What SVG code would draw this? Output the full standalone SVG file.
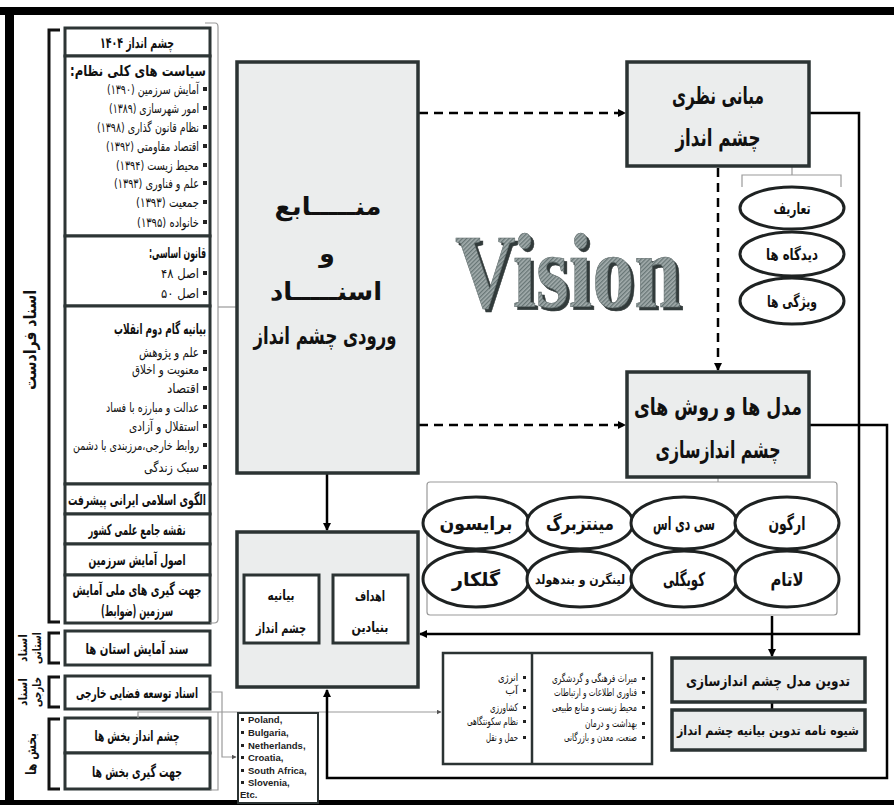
<svg xmlns="http://www.w3.org/2000/svg" width="894" height="805" viewBox="0 0 894 805">
<defs>
<style>
.fa{font-family:"DejaVu Sans",sans-serif;direction:rtl;fill:#111}
.c{text-anchor:middle}
.r{text-anchor:start}
.b{font-weight:bold}
.box{fill:#fff;stroke:#2d3535;stroke-width:3}
.gbox{fill:#ebeded;stroke:#2b3333;stroke-width:3.5}
.ell{fill:#fff;stroke:#1e2222;stroke-width:3}
.br{fill:none;stroke:#111;stroke-width:3}
.thin{fill:none;stroke:#9a9a9a;stroke-width:1.2}
.solid{fill:none;stroke:#000;stroke-width:2.5}
.dash{fill:none;stroke:#000;stroke-width:2.5;stroke-dasharray:9 6}
.bul{fill:#222}
</style>
<marker id="ah" markerWidth="8" markerHeight="8" refX="7" refY="4" orient="auto" markerUnits="userSpaceOnUse"><path d="M0,0 L8,4 L0,8 Z" fill="#000"/></marker>
<marker id="as" markerWidth="5" markerHeight="5" refX="4.5" refY="2.5" orient="auto" markerUnits="userSpaceOnUse"><path d="M0,0 L5,2.5 L0,5 Z" fill="#555"/></marker>
<pattern id="hatch" width="3" height="3" patternUnits="userSpaceOnUse" patternTransform="rotate(45)"><rect width="3" height="3" fill="#a3adad"/><rect width="1.3" height="3" fill="#677575"/></pattern>
<filter id="shadow" x="-5%" y="-5%" width="115%" height="120%"><feOffset in="SourceAlpha" dx="3" dy="3" result="o"/><feFlood flood-color="#323a3a"/><feComposite in2="o" operator="in" result="s"/><feMerge><feMergeNode in="s"/><feMergeNode in="SourceGraphic"/></feMerge></filter>
<rect id="bl" width="4" height="4" class="bul"/>
</defs>
<rect x="0" y="0" width="894" height="805" fill="#fff"/>
<!-- frame -->
<rect x="0" y="7" width="894" height="8" fill="#000"/>
<rect x="5" y="7" width="9" height="798" fill="#000"/>
<rect x="0" y="800" width="894" height="5" fill="#000"/>

<!-- left brackets and labels -->
<g id="brackets">
<path class="br" d="M60,30 H49 V622 H60"/>
<path class="br" d="M60,633 H49 V663 H60"/>
<path class="br" d="M60,677 H49 V707 H60"/>
<path class="br" d="M60,719 H49 V789 H60"/>
<text class="fa c b" font-size="17" textLength="100" lengthAdjust="spacingAndGlyphs" transform="translate(36,340) rotate(-90)">اسناد فرادست</text>
<text class="fa c b" font-size="12" textLength="28" lengthAdjust="spacingAndGlyphs" transform="translate(27,648) rotate(-90)">اسناد</text>
<text class="fa c b" font-size="12" textLength="32" lengthAdjust="spacingAndGlyphs" transform="translate(41,648) rotate(-90)">استانی</text>
<text class="fa c b" font-size="12" textLength="28" lengthAdjust="spacingAndGlyphs" transform="translate(27,692) rotate(-90)">اسناد</text>
<text class="fa c b" font-size="12" textLength="30" lengthAdjust="spacingAndGlyphs" transform="translate(41,692) rotate(-90)">خارجی</text>
<text class="fa c b" font-size="14" textLength="42" lengthAdjust="spacingAndGlyphs" transform="translate(36,754) rotate(-90)">بخش ها</text>
</g>

<!-- left column boxes -->
<g id="n1404"><rect class="box" x="65" y="28" width="145" height="28"/><text class="fa c b" font-size="15" textLength="74" lengthAdjust="spacingAndGlyphs" x="137" y="48">چشم انداز ۱۴۰۴</text></g>
<g id="policies"><rect class="box" x="65" y="56" width="145" height="180"/>
<text class="fa r b" font-size="15" textLength="136" lengthAdjust="spacingAndGlyphs" x="206" y="76">سیاست های کلی نظام:</text>
<g font-size="13" class="fa r">
<text x="199" y="94" textLength="92" lengthAdjust="spacingAndGlyphs">آمایش سرزمین (۱۳۹۰)</text>
<text x="199" y="113" textLength="90" lengthAdjust="spacingAndGlyphs">امور شهرسازی (۱۳۸۹)</text>
<text x="199" y="132" textLength="102" lengthAdjust="spacingAndGlyphs">نظام قانون گذاری (۱۳۹۸)</text>
<text x="199" y="151" textLength="93" lengthAdjust="spacingAndGlyphs">اقتصاد مقاومتی (۱۳۹۲)</text>
<text x="199" y="170" textLength="83" lengthAdjust="spacingAndGlyphs">محیط زیست (۱۳۹۴)</text>
<text x="199" y="188" textLength="85" lengthAdjust="spacingAndGlyphs">علم و فناوری (۱۳۹۳)</text>
<text x="199" y="207" textLength="63" lengthAdjust="spacingAndGlyphs">جمعیت (۱۳۹۳)</text>
<text x="199" y="227" textLength="62" lengthAdjust="spacingAndGlyphs">خانواده (۱۳۹۵)</text>
</g>
<use href="#bl" x="203" y="87"/><use href="#bl" x="203" y="106"/><use href="#bl" x="203" y="125"/><use href="#bl" x="203" y="144"/><use href="#bl" x="203" y="163"/><use href="#bl" x="203" y="181"/><use href="#bl" x="203" y="200"/><use href="#bl" x="203" y="220"/>
</g>
<g id="constitution"><rect class="box" x="65" y="236" width="145" height="70"/>
<text class="fa r b" font-size="15" textLength="57" lengthAdjust="spacingAndGlyphs" x="206" y="258">قانون اساسی:</text>
<text class="fa r" font-size="13" textLength="38" lengthAdjust="spacingAndGlyphs" x="199" y="278">اصل ۴۸</text>
<text class="fa r" font-size="13" textLength="38" lengthAdjust="spacingAndGlyphs" x="199" y="298">اصل ۵۰</text>
<use href="#bl" x="203" y="271"/><use href="#bl" x="203" y="291"/>
</g>
<g id="statement2"><rect class="box" x="65" y="306" width="145" height="178"/>
<text class="fa r b" font-size="15" textLength="92" lengthAdjust="spacingAndGlyphs" x="206" y="334">بیانیه گام دوم انقلاب</text>
<g font-size="13" class="fa r">
<text x="199" y="357" textLength="60" lengthAdjust="spacingAndGlyphs">علم و پژوهش</text>
<text x="199" y="374" textLength="67" lengthAdjust="spacingAndGlyphs">معنویت و اخلاق</text>
<text x="199" y="393" textLength="32" lengthAdjust="spacingAndGlyphs">اقتصاد</text>
<text x="199" y="412" textLength="93" lengthAdjust="spacingAndGlyphs">عدالت و مبارزه با فساد</text>
<text x="199" y="431" textLength="70" lengthAdjust="spacingAndGlyphs">استقلال و آزادی</text>
<text x="199" y="450" textLength="126" lengthAdjust="spacingAndGlyphs">روابط خارجی،مرزبندی با دشمن</text>
<text x="199" y="472" textLength="55" lengthAdjust="spacingAndGlyphs">سبک زندگی</text>
</g>
<use href="#bl" x="203" y="350"/><use href="#bl" x="203" y="367"/><use href="#bl" x="203" y="386"/><use href="#bl" x="203" y="405"/><use href="#bl" x="203" y="424"/><use href="#bl" x="203" y="443"/><use href="#bl" x="203" y="465"/>
</g>
<g id="pattern"><rect class="box" x="65" y="484" width="145" height="30"/><text class="fa c b" font-size="15" textLength="138" lengthAdjust="spacingAndGlyphs" x="137" y="505">الگوی اسلامی ایرانی پیشرفت</text></g>
<g id="sciencemap"><rect class="box" x="65" y="514" width="145" height="30"/><text class="fa c b" font-size="15" textLength="97" lengthAdjust="spacingAndGlyphs" x="137" y="535">نقشه جامع علمی کشور</text></g>
<g id="principles"><rect class="box" x="65" y="544" width="145" height="31"/><text class="fa c b" font-size="15" textLength="97" lengthAdjust="spacingAndGlyphs" x="137" y="565">اصول آمایش سرزمین</text></g>
<g id="directions"><rect class="box" x="65" y="575" width="145" height="48"/><text class="fa c b" font-size="15" textLength="129" lengthAdjust="spacingAndGlyphs" x="137" y="595">جهت گیری های ملی آمایش</text><text class="fa c b" font-size="15" textLength="72" lengthAdjust="spacingAndGlyphs" x="137" y="616">سرزمین (ضوابط)</text></g>
<g id="provinces"><rect class="box" x="65" y="631" width="145" height="34"/><text class="fa c b" font-size="15" textLength="103" lengthAdjust="spacingAndGlyphs" x="137" y="654">سند آمایش استان ها</text></g>
<g id="foreign"><rect class="box" x="65" y="676" width="145" height="33"/><text class="fa c b" font-size="15" textLength="122" lengthAdjust="spacingAndGlyphs" x="137" y="698">اسناد توسعه فضایی خارجی</text></g>
<g id="sectorvision"><rect class="box" x="65" y="718" width="145" height="35"/><text class="fa c b" font-size="15" textLength="85" lengthAdjust="spacingAndGlyphs" x="137" y="741">چشم انداز بخش ها</text></g>
<g id="sectordir"><rect class="box" x="65" y="753" width="145" height="36"/><text class="fa c b" font-size="15" textLength="90" lengthAdjust="spacingAndGlyphs" x="137" y="777">جهت گیری بخش ها</text></g>

<!-- connectors -->
<g id="connectors">
<path class="thin" d="M205,23 H215 Q218,23 218,27 V619 Q218,623 214,623 H210"/>
<path class="thin" d="M218,307 H237"/>
<path class="thin" d="M210,692 H222 V757 H236" marker-end="url(#as)"/>
<path class="thin" d="M138,718 V712 H441" marker-end="url(#as)"/>
<path class="thin" d="M210,790 H218 V712"/>
<path class="thin" d="M792,167 V175 M742,187 V175 H841 V187"/>
<path class="thin" d="M718,478 V482"/>
<path class="dash" d="M419,113 H625" marker-end="url(#ah)"/>
<path class="dash" d="M419,425 H625" marker-end="url(#ah)"/>
<path class="dash" d="M718,168 V370" marker-end="url(#ah)"/>
<path class="solid" d="M810,113 H859 V634 H420" marker-end="url(#ah)"/>
<path class="solid" d="M810,425 H887 V778 H327 V690" marker-end="url(#ah)"/>
<path class="solid" d="M327,474 V530" marker-end="url(#ah)"/>
<path class="solid" d="M333,609 H321" marker-end="url(#ah)"/>
<path class="solid" d="M772,616 V656" marker-end="url(#ah)"/>
<path class="solid" d="M772,702 V711" stroke-width="3"/>
</g>

<!-- main input box -->
<g id="inputs"><rect class="gbox" x="237" y="62" width="181" height="411"/>
<text class="fa c b" font-size="25" textLength="107" lengthAdjust="spacingAndGlyphs" x="328" y="215">منـــــابع</text>
<text class="fa c b" font-size="25" x="327" y="262">و</text>
<text class="fa c b" font-size="25" textLength="112" lengthAdjust="spacingAndGlyphs" x="326" y="300">اسنـــــاد</text>
<text class="fa c b" font-size="24" textLength="143" lengthAdjust="spacingAndGlyphs" x="325" y="344">ورودی چشم انداز</text>
</g>

<!-- Vision -->
<g id="vision">
<text x="455" y="307" font-family="Liberation Serif" font-weight="bold" font-size="106" textLength="226" lengthAdjust="spacingAndGlyphs" fill="url(#hatch)" stroke="#5a6666" stroke-width="0.6" filter="url(#shadow)">Vision</text>
</g>

<!-- theoretical foundations -->
<g id="theory"><rect class="gbox" x="627" y="62" width="182" height="104"/>
<text class="fa c b" font-size="24" textLength="92" lengthAdjust="spacingAndGlyphs" x="718" y="104">مبانی نظری</text>
<text class="fa c b" font-size="24" textLength="85" lengthAdjust="spacingAndGlyphs" x="718" y="146">چشم انداز</text>
</g>
<g id="defs1"><ellipse class="ell" cx="792" cy="208" rx="52" ry="21"/><text class="fa c b" font-size="16" textLength="37" lengthAdjust="spacingAndGlyphs" x="792" y="214">تعاریف</text></g>
<g id="views"><ellipse class="ell" cx="792" cy="254" rx="52" ry="22"/><text class="fa c b" font-size="16" textLength="52" lengthAdjust="spacingAndGlyphs" x="792" y="260">دیدگاه ها</text></g>
<g id="features"><ellipse class="ell" cx="792" cy="301" rx="52" ry="23"/><text class="fa c b" font-size="16" textLength="50" lengthAdjust="spacingAndGlyphs" x="792" y="307">ویژگی ها</text></g>

<!-- models -->
<g id="models"><rect class="gbox" x="627" y="372" width="182" height="105"/>
<text class="fa c b" font-size="24" textLength="168" lengthAdjust="spacingAndGlyphs" x="718" y="415">مدل ها و روش های</text>
<text class="fa c b" font-size="24" textLength="125" lengthAdjust="spacingAndGlyphs" x="718" y="458">چشم اندازسازی</text>
</g>
<rect class="thin" x="427" y="482" width="410" height="133" rx="3"/>
<g id="bryson"><ellipse class="ell" cx="476" cy="523" rx="53" ry="26"/><text class="fa c b" font-size="19" textLength="73" lengthAdjust="spacingAndGlyphs" x="476" y="530">برایسون</text></g>
<g id="mintzberg"><ellipse class="ell" cx="580" cy="523" rx="53" ry="26"/><text class="fa c b" font-size="19" textLength="68" lengthAdjust="spacingAndGlyphs" x="580" y="530">مینتزبرگ</text></g>
<g id="cds"><ellipse class="ell" cx="684" cy="523" rx="53" ry="26"/><text class="fa c b" font-size="19" textLength="62" lengthAdjust="spacingAndGlyphs" x="684" y="530">سی دی اس</text></g>
<g id="argon"><ellipse class="ell" cx="787" cy="523" rx="52" ry="26"/><text class="fa c b" font-size="19" textLength="37" lengthAdjust="spacingAndGlyphs" x="787" y="530">ارگون</text></g>
<g id="golkar"><ellipse class="ell" cx="476" cy="579" rx="53" ry="28"/><text class="fa c b" font-size="19" textLength="48" lengthAdjust="spacingAndGlyphs" x="476" y="586">گلکار</text></g>
<g id="lingren"><ellipse class="ell" cx="580" cy="579" rx="53" ry="28"/><text class="fa c b" font-size="13" textLength="90" lengthAdjust="spacingAndGlyphs" x="580" y="584">لینگرن و بندهولد</text></g>
<g id="koygly"><ellipse class="ell" cx="684" cy="579" rx="53" ry="28"/><text class="fa c b" font-size="19" textLength="42" lengthAdjust="spacingAndGlyphs" x="684" y="586">کویگلی</text></g>
<g id="latam"><ellipse class="ell" cx="787" cy="579" rx="52" ry="28"/><text class="fa c b" font-size="19" textLength="33" lengthAdjust="spacingAndGlyphs" x="787" y="586">لاتام</text></g>

<!-- goals -->
<g id="goals"><rect class="gbox" x="237" y="532" width="181" height="155"/></g>
<g id="fundamental"><rect x="333" y="575" width="75" height="68" fill="#fff" stroke="#2b3333" stroke-width="3"/>
<text class="fa c b" font-size="14" textLength="30" lengthAdjust="spacingAndGlyphs" x="370" y="601">اهداف</text><text class="fa c b" font-size="14" textLength="37" lengthAdjust="spacingAndGlyphs" x="370" y="632">بنیادین</text></g>
<g id="statement"><rect x="244" y="575" width="75" height="68" fill="#fff" stroke="#2b3333" stroke-width="3"/>
<text class="fa c b" font-size="14" textLength="27" lengthAdjust="spacingAndGlyphs" x="281" y="600">بیانیه</text><text class="fa c b" font-size="14" textLength="50" lengthAdjust="spacingAndGlyphs" x="281" y="633">چشم انداز</text></g>

<!-- sectors -->
<g id="sectors"><rect x="443" y="653" width="209" height="111" fill="#fff" stroke="#2b3333" stroke-width="2.5"/>
<line x1="532" y1="653" x2="532" y2="764" stroke="#2b3333" stroke-width="2.5"/>
<g font-size="10.5" class="fa r">
<text x="518" y="681" textLength="20" lengthAdjust="spacingAndGlyphs">انرژی</text>
<text x="518" y="694">آب</text>
<text x="518" y="711" textLength="28" lengthAdjust="spacingAndGlyphs">کشاورزی</text>
<text x="518" y="725" textLength="51" lengthAdjust="spacingAndGlyphs">نظام سکونتگاهی</text>
<text x="518" y="741" textLength="32" lengthAdjust="spacingAndGlyphs">حمل و نقل</text>
<text x="637" y="682" textLength="85" lengthAdjust="spacingAndGlyphs">میراث فرهنگی و گردشگری</text>
<text x="637" y="696" textLength="83" lengthAdjust="spacingAndGlyphs">فناوری اطلاعات و ارتباطات</text>
<text x="637" y="711" textLength="85" lengthAdjust="spacingAndGlyphs">محیط زیست و منابع طبیعی</text>
<text x="637" y="727" textLength="52" lengthAdjust="spacingAndGlyphs">بهداشت و درمان</text>
<text x="637" y="741" textLength="73" lengthAdjust="spacingAndGlyphs">صنعت، معدن و بازرگانی</text>
</g>
<g fill="#222"><rect x="523" y="676" width="3" height="3"/><rect x="523" y="689" width="3" height="3"/><rect x="523" y="706" width="3" height="3"/><rect x="523" y="720" width="3" height="3"/><rect x="523" y="736" width="3" height="3"/>
<rect x="642" y="677" width="3" height="3"/><rect x="642" y="691" width="3" height="3"/><rect x="642" y="706" width="3" height="3"/><rect x="642" y="722" width="3" height="3"/><rect x="642" y="736" width="3" height="3"/></g>
</g>

<!-- countries -->
<g id="countries"><rect x="238" y="713" width="80" height="90" fill="#fff" stroke="#2b3333" stroke-width="2"/>
<g font-family="Liberation Sans, Arial, sans-serif" font-size="9.5" font-weight="bold" fill="#222">
<text x="248" y="723">Poland,</text>
<text x="248" y="736">Bulgaria,</text>
<text x="248" y="749">Netherlands,</text>
<text x="248" y="761">Croatia,</text>
<text x="248" y="774">South Africa,</text>
<text x="248" y="786">Slovenia,</text>
<text x="240" y="798">Etc.</text>
</g>
<g fill="#222"><rect x="241" y="718" width="3" height="3"/><rect x="241" y="731" width="3" height="3"/><rect x="241" y="744" width="3" height="3"/><rect x="241" y="756" width="3" height="3"/><rect x="241" y="769" width="3" height="3"/><rect x="241" y="781" width="3" height="3"/></g>
</g>

<!-- bottom right -->
<g id="compile"><rect class="gbox" x="672" y="658" width="193" height="44"/><text class="fa c b" font-size="15" textLength="164" lengthAdjust="spacingAndGlyphs" x="768" y="686">تدوین مدل چشم اندازسازی</text></g>
<g id="guideline"><rect class="gbox" x="672" y="710" width="193" height="40"/><text class="fa c b" font-size="13" textLength="182" lengthAdjust="spacingAndGlyphs" x="768" y="735">شیوه نامه تدوین بیانیه چشم انداز</text></g>
</svg>
